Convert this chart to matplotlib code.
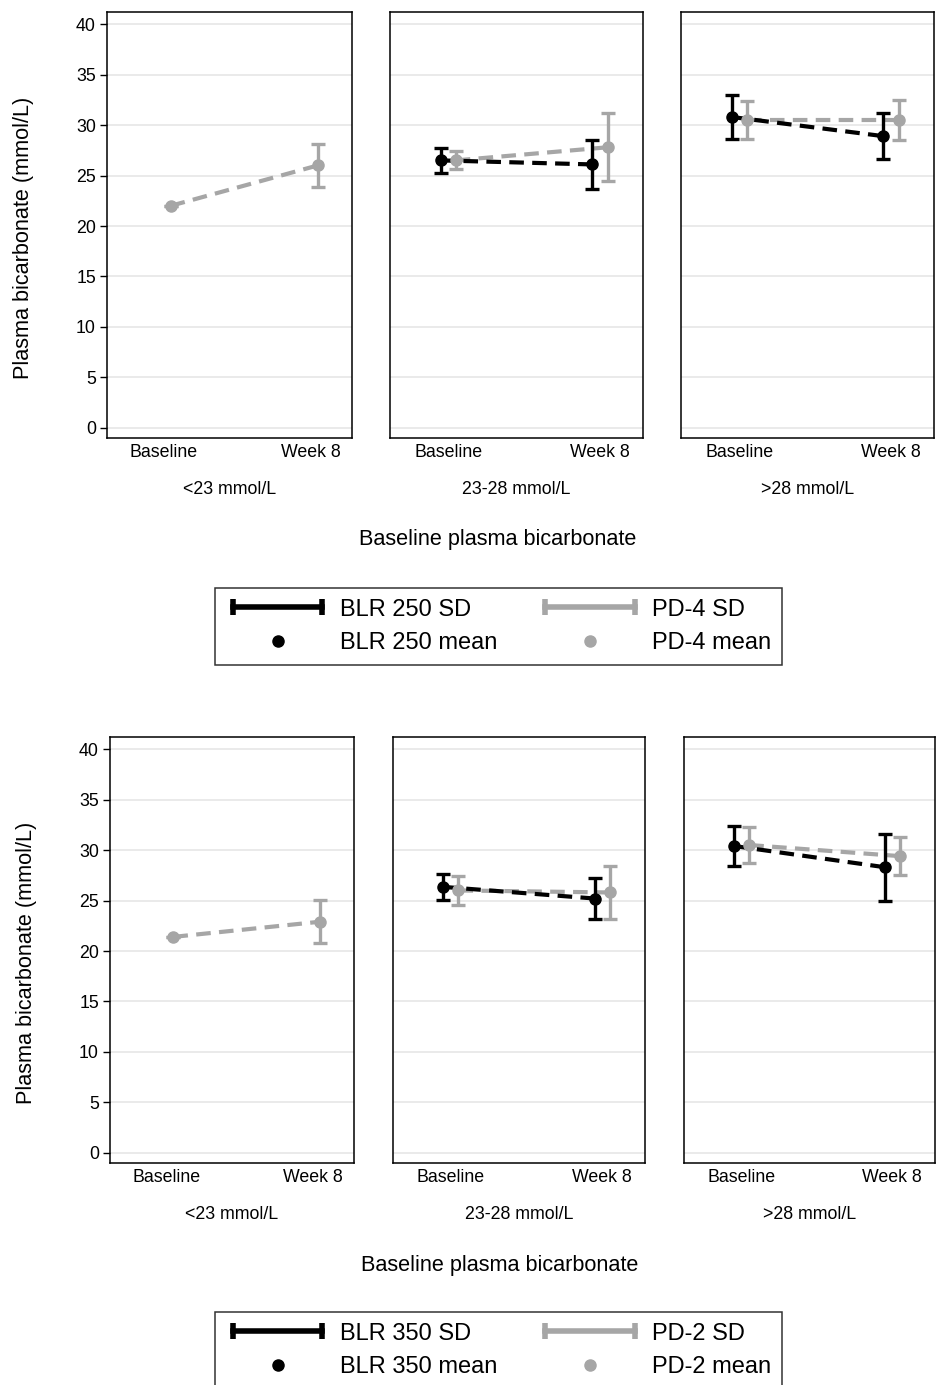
#!/usr/bin/env python3
"""
Plasma bicarbonate by baseline stratum: BLR 250 vs PD-4 (top) and
BLR 350 vs PD-2 (bottom), mean +/- SD at baseline and week 8.
"""

import numpy as np
import matplotlib
matplotlib.use("Agg")
import matplotlib.pyplot as plt
from matplotlib.lines import Line2D
from matplotlib.legend_handler import HandlerLine2D

plt.rcParams['font.family'] = ['Liberation Sans', 'DejaVu Sans']

# ---- data ----
strata = ['<23 mmol/L', '23-28 mmol/L', '>28 mmol/L']
visits = ['Baseline', 'Week 8']

# top figure
blr250_mean = [[np.nan, np.nan], [26.5, 26.1], [30.8, 28.9]]
blr250_sd = [[np.nan, np.nan], [1.2, 2.45], [2.2, 2.25]]
pd4_mean = [[22.0, 26.0], [26.5, 27.8], [30.5, 30.5]]
pd4_sd = [[0.0, 2.1], [0.9, 3.35], [1.9, 2.0]]

# bottom figure
blr350_mean = [[np.nan, np.nan], [26.35, 25.2], [30.4, 28.3]]
blr350_sd = [[np.nan, np.nan], [1.25, 2.0], [2.0, 3.3]]
pd2_mean = [[21.4, 22.9], [26.0, 25.8], [30.5, 29.4]]
pd2_sd = [[0.0, 2.15], [1.4, 2.65], [1.8, 1.9]]

yticks = [0, 5, 10, 15, 20, 25, 30, 35, 40]

BLACK = '#000000'
GRAY = '#a6a6a6'
W, H = 936, 1385


def px_rect(x0, y0, x1, y1):
    """Pixel box (top-left origin) -> figure fraction rect."""
    return [x0 / W, 1 - y1 / H, (x1 - x0) / W, (y1 - y0) / H]


def draw_series(ax, means, sds, xoff, color):
    x = np.arange(len(visits)) + xoff
    m = np.asarray(means, dtype=float)
    s = np.asarray(sds, dtype=float)
    if np.all(np.isnan(m)):
        return
    ax.plot(x, m, ls=(0, (3.5, 2.0)), lw=3.0, color=color, zorder=3)
    ax.errorbar(x, m, yerr=s, fmt='o', ms=8, color=color, ecolor=color,
                elinewidth=2.4, capsize=5, capthick=2.4, zorder=4)


def draw_row(fig, top, lefts, rights, bottom, blr_m, blr_s, pd_m, pd_s,
             ylab_xy, title_xy, legend_top, labels):
    off = 0.05
    for i, (l, r) in enumerate(zip(lefts, rights)):
        ax = fig.add_axes(px_rect(l, top, r, bottom))
        for y in yticks:
            ax.axhline(y, color='#e8e8e8', lw=1.3, zorder=0)
        draw_series(ax, pd_m[i], pd_s[i], +off, GRAY)
        draw_series(ax, blr_m[i], blr_s[i], -off, BLACK)
        ax.set_xlim(-0.383, 1.283)
        ax.set_ylim(-1.0, 41.2)
        ax.set_xticks(range(len(visits)))
        ax.set_xticklabels(visits, fontsize=12.8)
        ax.tick_params(axis='x', length=0, pad=4)
        if i == 0:
            ax.set_yticks(yticks)
            ax.tick_params(axis='y', length=5, width=1, labelsize=12.8, pad=3)
        else:
            ax.set_yticks([])
        for sp in ax.spines.values():
            sp.set_linewidth(1.1)
        ax.set_xlabel(strata[i], fontsize=12.8, labelpad=15)

    fig.text(ylab_xy[0] / W, 1 - ylab_xy[1] / H, 'Plasma bicarbonate (mmol/L)',
             rotation=90, ha='center', va='center', fontsize=15.6)
    fig.text(title_xy[0] / W, 1 - title_xy[1] / H, 'Baseline plasma bicarbonate',
             ha='center', va='center', fontsize=15.6)

    sd_blr = Line2D([], [], color=BLACK, lw=4, marker='|', ms=11, mew=4)
    mean_blr = Line2D([], [], color=BLACK, ls='none', marker='o', ms=8)
    sd_pd = Line2D([], [], color=GRAY, lw=4, marker='|', ms=11, mew=4)
    mean_pd = Line2D([], [], color=GRAY, ls='none', marker='o', ms=8)
    leg = fig.legend([sd_blr, mean_blr, sd_pd, mean_pd], labels,
                     ncol=2, loc='upper center',
                     bbox_to_anchor=(498.5 / W, 1 - legend_top / H),
                     borderaxespad=0.0,
                     fontsize=17, frameon=True, fancybox=False,
                     edgecolor='black', handlelength=4.4, handletextpad=0.45,
                     columnspacing=1.7, labelspacing=0.5,
                     borderpad=0.45,
                     handler_map={sd_blr: HandlerLine2D(numpoints=2),
                                  sd_pd: HandlerLine2D(numpoints=2)})
    leg.get_frame().set_linewidth(1.1)


fig = plt.figure(figsize=(W / 100, H / 100), dpi=100)

draw_row(fig, 12, [107, 390, 681], [352, 643, 934], 438,
         blr250_mean, blr250_sd, pd4_mean, pd4_sd,
         (24, 238), (498, 540), 588,
         ['BLR 250 SD', 'BLR 250 mean', 'PD-4 SD', 'PD-4 mean'])

draw_row(fig, 737, [110, 393, 684], [354, 645, 935], 1163,
         blr350_mean, blr350_sd, pd2_mean, pd2_sd,
         (27, 963), (500, 1265), 1312,
         ['BLR 350 SD', 'BLR 350 mean', 'PD-2 SD', 'PD-2 mean'])

fig.savefig('out.png', dpi=100, facecolor='white')
